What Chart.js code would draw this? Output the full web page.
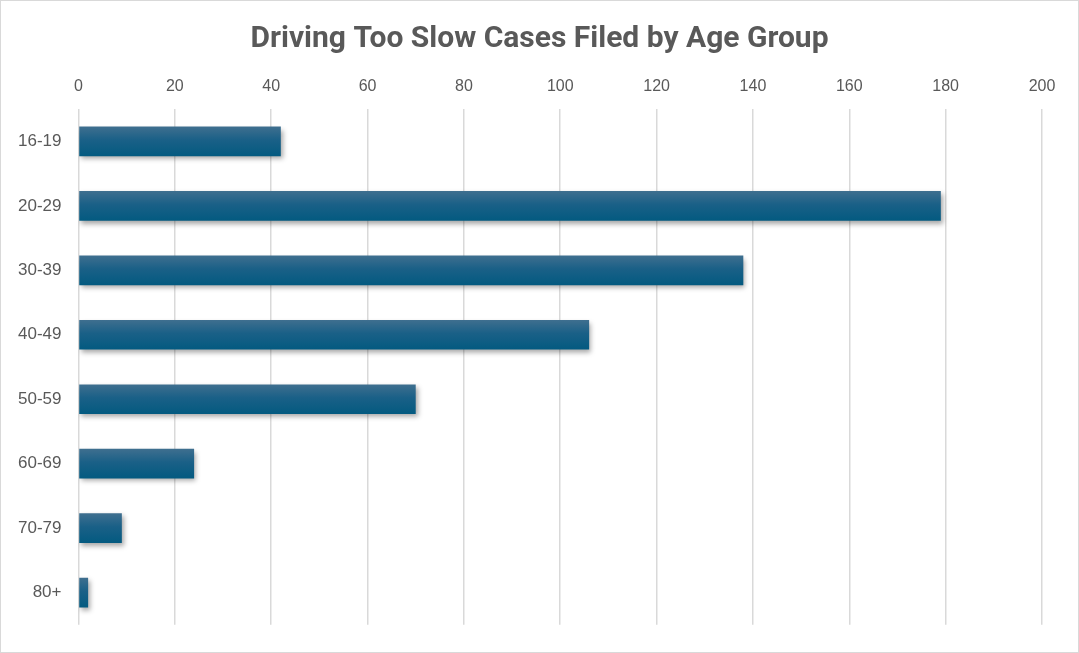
<!DOCTYPE html>
<html>
<head>
<meta charset="utf-8">
<script src="https://cdn.jsdelivr.net/npm/chart.js@4.4.1/dist/chart.umd.min.js"></script>
<style>
  html, body { margin: 0; padding: 0; background: #fff; }
  #wrap { position: relative; width: 1077px; height: 651px; border: 1px solid #d9d9d9; }
</style>
</head>
<body>
<div id="wrap"><canvas id="chart"></canvas></div>
<script>
// age groups and number of cases
const ageGroups = ['16-19', '20-29', '30-39', '40-49', '50-59', '60-69', '70-79', '80+'];
const cases = [42, 179, 138, 106, 70, 24, 9, 2];
const axisMax = 200;
const axisStep = 20;
const barThickness = 0.46;

// vertical gradient per bar + soft shadow under the bars
const barLook = {
  id: 'barLook',
  afterLayout(chart) {
    // center the title over the whole canvas, not just the padded area
    if (chart.titleBlock) {
      chart.titleBlock.left = 0;
      chart.titleBlock.right = chart.width;
      chart.titleBlock.width = chart.width;
    }
  },
  beforeDatasetDraw(chart) {
    const ctx = chart.ctx;
    const yScale = chart.scales.y;
    const band = (yScale.bottom - yScale.top) / ageGroups.length;
    const h = band * barThickness;
    chart.getDatasetMeta(0).data.forEach((bar, i) => {
      const cy = yScale.getPixelForValue(i);
      const g = ctx.createLinearGradient(0, cy - h / 2, 0, cy + h / 2);
      g.addColorStop(0, '#3f6f8f');
      g.addColorStop(0.45, '#1a6087');
      g.addColorStop(1, '#035a80');
      bar.options.backgroundColor = g;
    });
    ctx.save();
    ctx.shadowColor = 'rgba(0,0,0,0.35)';
    ctx.shadowBlur = 5;
    ctx.shadowOffsetX = 2;
    ctx.shadowOffsetY = 3;
  },
  afterDatasetDraw(chart) {
    chart.ctx.restore();
  }
};

const ctx = document.getElementById('chart').getContext('2d');
const chart = new Chart(ctx, {
  type: 'bar',
  data: {
    labels: ageGroups,
    datasets: [{
      label: 'Cases',
      data: cases,
      // scriptable so each bar gets its own options object (own gradient)
      backgroundColor: () => '#0f5c82',
      borderWidth: 0,
      categoryPercentage: 1,
      barPercentage: barThickness
    }]
  },
  options: {
    indexAxis: 'y',
    responsive: true,
    maintainAspectRatio: false,
    animation: false,
    layout: { padding: { left: 0, right: 36, top: 8, bottom: 18 } },
    plugins: {
      legend: { display: false },
      tooltip: { enabled: false },
      title: {
        display: true,
        text: 'Driving Too Slow Cases Filed by Age Group',
        color: '#595959',
        font: { family: 'Liberation Sans Narrow, Roboto, sans-serif', size: 30, weight: 'bold' },
        padding: { top: 12, bottom: 7 }
      }
    },
    scales: {
      x: {
        position: 'top',
        min: 0,
        max: axisMax,
        ticks: {
          stepSize: axisStep,
          color: '#595959',
          font: { family: 'Liberation Sans, sans-serif', size: 16 },
          padding: 13
        },
        grid: { color: '#d9d9d9', lineWidth: 1.5, drawTicks: false },
        border: { display: false }
      },
      y: {
        ticks: {
          color: '#595959',
          font: { family: 'Liberation Sans, sans-serif', size: 17 },
          padding: 17
        },
        grid: { display: false, drawTicks: false },
        border: { display: false }
      }
    }
  },
  plugins: [barLook]
});
</script>
</body>
</html>
